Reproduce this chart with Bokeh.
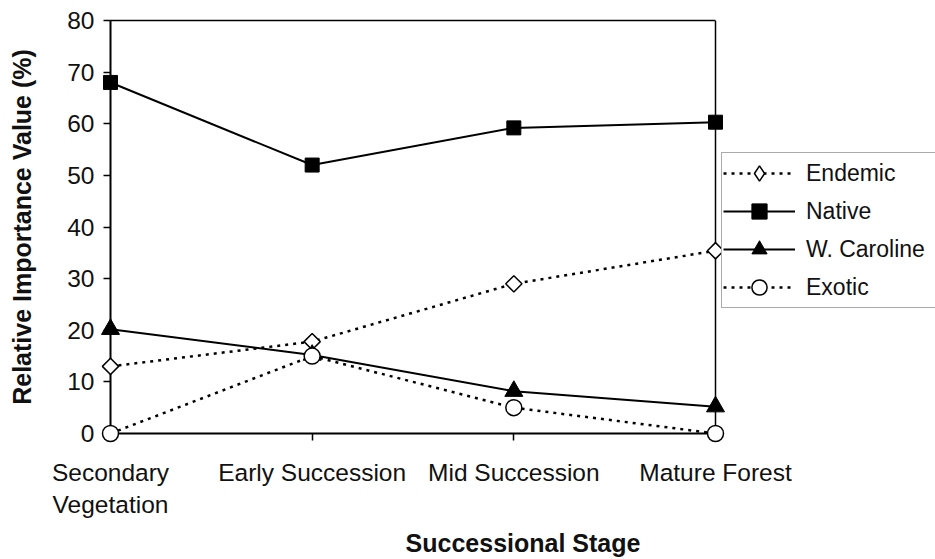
from bokeh.plotting import figure
from bokeh.models import Range1d, FixedTicker, Legend, LegendItem, LinearAxis, Span
from bokeh.embed import file_html
from bokeh.resources import INLINE

# ---- data ----
stages = ["Secondary\nVegetation", "Early Succession", "Mid Succession", "Mature Forest"]
x_pos = [0, 1, 2, 3]
endemic = [13.0, 17.8, 29.0, 35.4]
native = [68.0, 52.0, 59.2, 60.3]
w_caroline = [20.2, 15.2, 8.2, 5.2]
exotic = [0.0, 15.0, 5.0, 0.0]
y_ticks = [0, 10, 20, 30, 40, 50, 60, 70, 80]

FONT = "Liberation Sans"

# layout: plot box spans pixels 110..715; the frame runs on to the window edge
# so that the legend can sit to the right of the box.
W, LEFT, BOX_RIGHT = 935, 110, 715
x_end = x_pos[-1] * (W - LEFT) / (BOX_RIGHT - LEFT)

p = figure(width=W, height=559,
           x_range=Range1d(x_pos[0], x_end), y_range=Range1d(y_ticks[0], y_ticks[-1]),
           output_backend="svg", toolbar_location=None,
           min_border_left=LEFT, min_border_right=0,
           min_border_top=20, min_border_bottom=126)

p.xgrid.grid_line_color = None
p.ygrid.grid_line_color = None
p.outline_line_color = None
p.background_fill_color = "white"
p.border_fill_color = "white"

# axes
p.xaxis.ticker = FixedTicker(ticks=x_pos)
p.xaxis.bounds = (x_pos[0], x_pos[-1])
p.xaxis.major_label_overrides = {x: s for x, s in zip(x_pos, stages)}
p.yaxis.ticker = FixedTicker(ticks=y_ticks)
for ax in (p.xaxis, p.yaxis):
    ax.axis_line_color = "black"
    ax.axis_line_width = 2
    ax.major_tick_line_color = "black"
    ax.major_tick_line_width = 1.5
    ax.major_tick_in = 0
    ax.major_tick_out = 7
    ax.minor_tick_line_color = None
    ax.major_label_text_font = FONT
    ax.major_label_text_font_size = "24.5px"
    ax.major_label_text_color = "#111111"
    ax.axis_label_text_font = FONT
    ax.axis_label_text_font_size = "25px"
    ax.axis_label_text_font_style = "bold"
    ax.axis_label_text_color = "#111111"
p.xaxis.major_label_standoff = 18
p.yaxis.major_label_standoff = 9
p.xaxis.axis_label = "Successional Stage"
p.yaxis.axis_label = "Relative Importance Value (%)"
p.xaxis.axis_label_standoff = 8
p.yaxis.axis_label_standoff = 28

# top edge of the box and right edge of the box
top_axis = LinearAxis(ticker=FixedTicker(ticks=[]), bounds=(x_pos[0], x_pos[-1]),
                      axis_line_color="black", axis_line_width=1.5,
                      major_tick_line_color=None, minor_tick_line_color=None)
p.add_layout(top_axis, "above")
p.add_layout(Span(location=x_pos[-1], dimension="height",
                  line_color="black", line_width=1.5))

# series
dot = "3 5"
l_end = p.line(x_pos, endemic, line_color="black", line_width=2.5, line_dash=dot)
m_end = p.scatter(x_pos, endemic, marker="square", angle=0.785398, size=11.5,
                  fill_color="white", line_color="black", line_width=1.5, level="overlay")
l_nat = p.line(x_pos, native, line_color="black", line_width=2)
m_nat = p.scatter(x_pos, native, marker="square", size=14,
                  fill_color="black", line_color="black", level="overlay")
l_wc = p.line(x_pos, w_caroline, line_color="black", line_width=2)
m_wc = p.scatter(x_pos, w_caroline, marker="triangle", size=18,
                 fill_color="black", line_color="black", level="overlay")
l_exo = p.line(x_pos, exotic, line_color="black", line_width=2.5, line_dash=dot)
m_exo = p.scatter(x_pos, exotic, marker="circle", size=16,
                  fill_color="white", line_color="black", line_width=1.5, level="overlay")
# legend-only key for Endemic (the legend does not rotate markers), hidden in the plot
m_end_key = p.scatter(x_pos, endemic, marker="diamond", size=20,
                      fill_color="white", line_color="black", line_width=1.5)
m_end_key.visible = False

legend = Legend(items=[
    LegendItem(label="Endemic", renderers=[l_end, m_end_key]),
    LegendItem(label="Native", renderers=[l_nat, m_nat]),
    LegendItem(label="W. Caroline", renderers=[l_wc, m_wc]),
    LegendItem(label="Exotic", renderers=[l_exo, m_exo]),
], location=(BOX_RIGHT - LEFT + 6, 125))
legend.label_text_font = FONT
legend.label_text_font_size = "23px"
legend.label_text_color = "#111111"
legend.glyph_width = 72
legend.glyph_height = 38
legend.label_height = 38
legend.label_width = 160
legend.spacing = 0
legend.padding = 1
legend.margin = 0
legend.label_standoff = 11
legend.border_line_color = "#555555"
legend.border_line_width = 1.5
legend.background_fill_color = "white"
legend.background_fill_alpha = 1
legend.inactive_fill_alpha = 0
p.add_layout(legend)

open("out.html", "w").write(file_html(p, INLINE))
